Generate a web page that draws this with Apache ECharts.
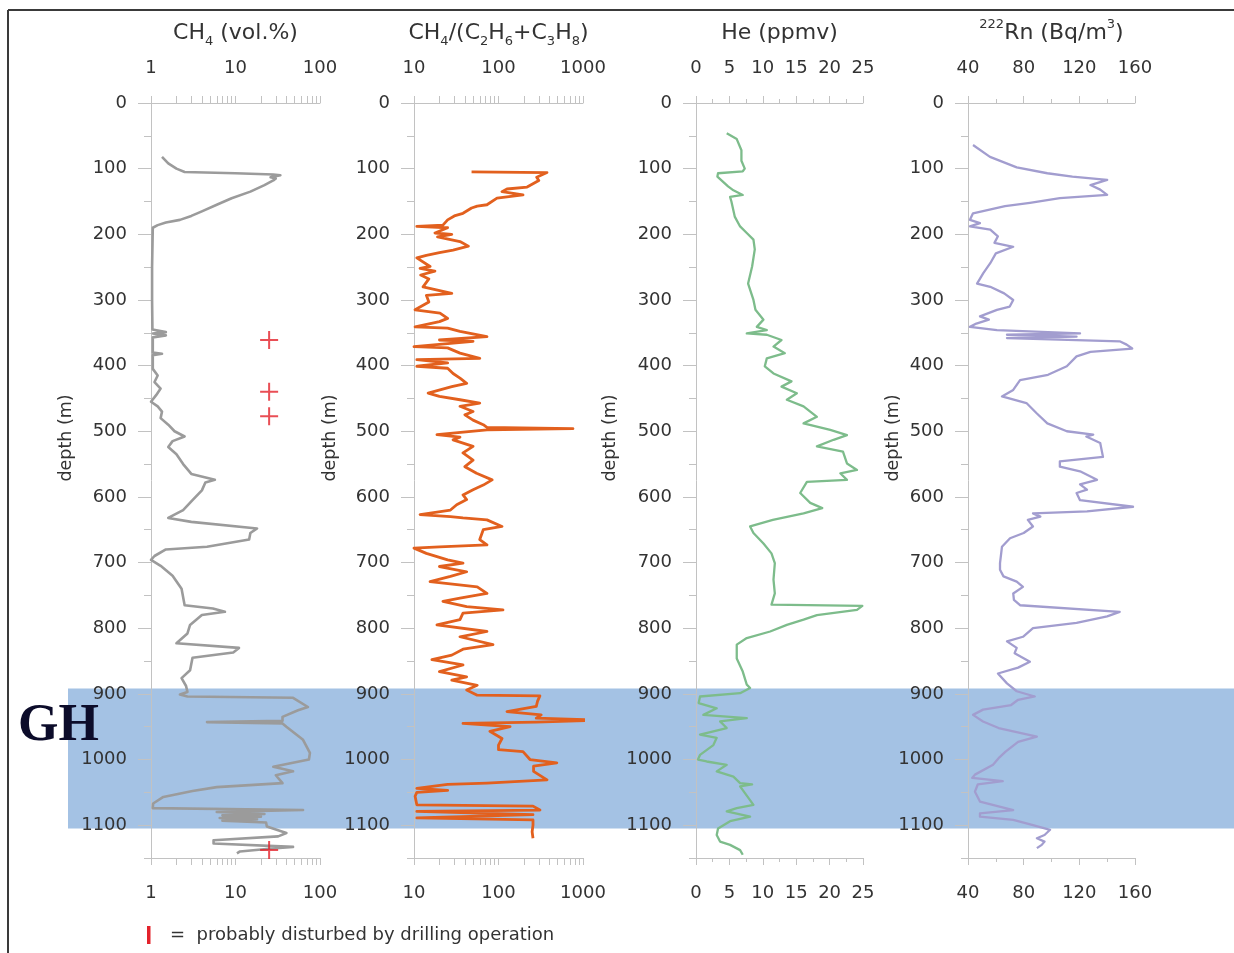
<!DOCTYPE html>
<html>
<head>
<meta charset="utf-8">
<title>Gas profiles vs depth</title>
<script src="https://cdn.jsdelivr.net/npm/echarts@6/dist/echarts.min.js"></script>
<style>
  html, body { margin: 0; padding: 0; background: #fff; }
  #chart { width: 1234px; height: 953px; }
</style>
</head>
<body>
<div id="chart"></div>
<script>
// depth axis
const depthMax = 1150;
const depthLabels = [0, 100, 200, 300, 400, 500, 600, 700, 800, 900, 1000, 1100];
const bandDepth = [892, 1105]; // gas hydrate zone (GH)

// x tick marks
const ch4TickMarks = [1, 2, 3, 4, 5, 6, 7, 8, 9, 10, 20, 30, 40, 50, 60, 70, 80, 90, 100];
const ratioTickMarks = [10, 20, 30, 40, 50, 60, 70, 80, 90, 100, 200, 300, 400, 500, 600, 700, 800, 900, 1000];

// CH4 (vol.%)
const ch4Depth = [82, 92, 100, 105, 107, 109, 110, 113, 115, 118, 125, 135, 145, 155, 165, 172, 178, 182, 186, 190, 250, 300, 345, 349, 351, 354, 357, 380, 382, 384, 405, 415, 425, 435, 445, 455, 462, 470, 480, 490, 500, 508, 515, 524, 535, 550, 565, 574, 578, 590, 605, 620, 632, 638, 648, 655, 665, 676, 680, 690, 696, 705, 720, 740, 765, 770, 775, 780, 795, 808, 823, 830, 837, 845, 864, 876, 888, 897, 901, 904, 906, 920, 925, 935, 941, 943, 945, 950, 970, 990, 1000, 1011, 1018, 1024, 1036, 1042, 1048, 1057, 1067, 1074, 1077, 1080, 1083, 1085, 1087, 1089, 1091, 1093, 1096, 1102, 1112, 1117, 1123, 1128, 1133, 1136, 1140, 1143];
const ch4Value = [1.35, 1.6, 2.0, 2.5, 10, 28, 34, 26, 30, 28, 22, 15, 9, 6, 4, 3, 2.2, 1.5, 1.2, 1.05, 1.03, 1.03, 1.04, 1.5, 1.05, 1.5, 1.05, 1.05, 1.35, 1.05, 1.05, 1.2, 1.1, 1.3, 1.15, 1.0, 1.2, 1.35, 1.3, 1.6, 1.9, 2.5, 1.8, 1.6, 2.0, 2.4, 3.0, 5.7, 4.4, 4.0, 3.1, 2.4, 1.6, 3, 18, 15, 14.5, 4.6, 1.5, 1.1, 1.0, 1.3, 1.8, 2.3, 2.5, 5.4, 7.5, 4.0, 2.9, 2.7, 2.0, 11, 9.4, 3.1, 2.9, 2.3, 2.6, 2.7, 2.2, 2.7, 48, 72, 55, 36, 36, 4.6, 36, 40, 63, 76, 74, 28, 48, 30, 36, 6, 3.1, 1.4, 1.06, 1.05, 63, 6.0, 22, 7, 20, 6.5, 18, 7, 23, 23.5, 40, 32, 5.5, 5.5, 48, 25, 11.3, 10.4];

// probably disturbed by drilling operation
const disturbedDepth = [361, 440, 477, 1138];
const disturbedValue = [25, 25, 25, 25];

// CH4/(C2H6+C3H8)
const ratioDepth = [105, 106, 108, 113, 118, 128, 131, 135, 140, 145, 155, 157, 160, 168, 172, 178, 186, 188, 190, 198, 200, 204, 211, 218, 224, 228, 232, 236, 249, 252, 256, 262, 268, 280, 290, 293, 303, 315, 320, 328, 333, 341, 343, 348, 356, 361, 363, 371, 373, 381, 389, 391, 396, 401, 404, 412, 419, 427, 432, 442, 447, 452, 457, 462, 470, 475, 483, 490, 494, 496, 498, 505, 509, 513, 523, 533, 544, 554, 564, 574, 582, 589, 597, 604, 612, 620, 627, 630, 632, 635, 645, 650, 665, 673, 676, 678, 686, 696, 701, 706, 714, 721, 729, 737, 747, 754, 759, 767, 772, 777, 787, 795, 805, 813, 825, 832, 841, 848, 856, 866, 874, 879, 887, 894, 902, 903, 911, 919, 927, 932, 937, 940, 943, 945, 950, 957, 968, 978, 985, 988, 1000, 1005, 1010, 1018, 1031, 1036, 1038, 1044, 1047, 1050, 1056, 1069, 1071, 1077, 1079, 1084, 1089, 1092, 1100, 1110, 1120];
const ratioValue = [48, 375, 385, 283, 300, 218, 126, 110, 195, 96, 73, 56, 48, 38, 30, 25, 22, 10.8, 25, 17.7, 28, 19, 35, 44, 29, 20, 14, 10.8, 15.5, 11.8, 17.7, 12, 15, 12.8, 28, 14, 15, 10.3, 20.3, 25, 20, 10.3, 25, 35, 73, 20, 50, 10, 25, 35, 60, 10.8, 25, 10.8, 25, 29, 35, 42, 28, 14.7, 20, 35, 60, 35, 50, 40, 50, 66, 73, 760, 73, 18.7, 35, 29, 50, 38, 50, 40, 55, 84, 66, 50, 38, 42, 32, 27, 11.8, 27, 38, 73, 110, 66, 60, 73, 20, 10, 14, 25, 38, 20, 42, 27, 15.5, 56, 73, 35, 22, 42, 113, 38, 35, 18.7, 73, 35, 86, 38, 28, 16.3, 38, 20, 42, 28, 56, 42, 56, 309, 290, 280, 126, 320, 280, 1600, 280, 38, 137, 79, 110, 100, 100, 195, 236, 490, 260, 260, 375, 73, 25, 10.8, 25, 10.8, 10.3, 10.8, 256, 309, 10.8, 256, 10.8, 256, 256, 250, 256];

// He (ppmv)
const heDepth = [46, 55, 72, 88, 100, 104, 107, 112, 127, 133, 140, 143, 150, 173, 188, 198, 208, 223, 249, 275, 300, 315, 330, 341, 346, 351, 353, 361, 371, 381, 389, 401, 412, 424, 432, 442, 452, 462, 478, 488, 498, 506, 513, 523, 531, 549, 559, 564, 574, 577, 594, 609, 617, 625, 635, 645, 655, 671, 686, 701, 726, 747, 764, 766, 772, 780, 787, 795, 805, 815, 825, 846, 866, 886, 891, 899, 904, 914, 922, 932, 937, 942, 952, 962, 967, 978, 993, 1000, 1003, 1008, 1018, 1026, 1036, 1038, 1041, 1069, 1074, 1079, 1087, 1094, 1105, 1115, 1125, 1130, 1138, 1145];
const heValue = [4.6, 6.1, 6.8, 6.8, 7.3, 7.0, 3.3, 3.2, 4.8, 5.6, 7.0, 5.1, 5.3, 5.8, 6.6, 7.6, 8.6, 8.8, 8.4, 7.8, 8.6, 8.9, 10.1, 9.1, 10.6, 7.6, 10.6, 12.8, 11.6, 13.3, 10.6, 10.3, 11.6, 14.3, 12.8, 15.1, 13.6, 16.1, 18.1, 16.1, 20.1, 22.6, 20.6, 18.1, 22.0, 22.6, 24.1, 21.6, 22.6, 16.6, 15.6, 17.1, 18.9, 16.1, 11.5, 8.1, 8.6, 10.1, 11.3, 11.8, 11.6, 11.8, 11.3, 24.9, 24.1, 18.1, 16.1, 13.6, 11.1, 7.6, 6.1, 6.1, 7.0, 7.6, 8.1, 6.6, 0.6, 0.4, 3.1, 1.1, 7.6, 3.6, 4.6, 0.6, 3.1, 2.6, 0.6, 0.3, 1.6, 4.6, 3.1, 5.6, 6.6, 8.4, 6.6, 8.6, 6.1, 4.6, 8.1, 5.1, 3.3, 3.1, 3.6, 5.1, 6.6, 7.0];

// 222Rn (Bq/m3)
const rnDepth = [64, 82, 98, 107, 112, 117, 125, 132, 140, 145, 152, 157, 168, 178, 183, 188, 193, 203, 213, 219, 229, 244, 259, 275, 280, 290, 300, 310, 315, 325, 330, 336, 341, 346, 351, 353, 356, 358, 363, 368, 374, 379, 386, 401, 414, 422, 437, 447, 457, 473, 488, 500, 505, 508, 518, 539, 546, 554, 561, 574, 581, 589, 594, 605, 615, 622, 625, 630, 635, 645, 655, 663, 676, 701, 711, 721, 729, 737, 747, 757, 765, 775, 782, 792, 800, 813, 820, 830, 838, 851, 860, 869, 884, 896, 904, 909, 917, 924, 932, 942, 952, 965, 973, 988, 998, 1008, 1023, 1028, 1033, 1038, 1049, 1064, 1077, 1082, 1087, 1092, 1100, 1107, 1115, 1120, 1125, 1130, 1135];
const rnValue = [43.6, 55.8, 75, 97, 115, 140, 128, 135, 140, 106, 84.5, 66.6, 43.6, 41.4, 48.6, 41.4, 56, 61.5, 59, 72.5, 60, 56, 51, 46.5, 56, 66, 72.5, 70, 60.8, 48.6, 55, 46, 41.4, 60.8, 120.5, 68, 118, 68, 149, 154, 158, 128, 118, 111, 97.5, 77.4, 72.5, 64.4, 82, 89.5, 97, 111, 130, 125, 135, 137, 106, 106, 120.5, 132.7, 120.5, 125.5, 118, 120.5, 158.6, 125.5, 86.7, 92, 83, 86.7, 80, 70.2, 64.4, 63, 63, 65.5, 75, 79.5, 72.5, 73, 77.4, 149, 140, 118, 86.7, 79.5, 68, 75, 73.5, 84.5, 76, 61.5, 68, 75, 88, 76, 71, 50.8, 43.6, 50.8, 62, 89.5, 76, 67, 62, 58, 45, 43, 65, 47, 45, 48.6, 72.5, 48.6, 48.6, 72.5, 86.7, 99, 95, 89.5, 95, 93, 89.5];

const FONT = 'DejaVu Sans';
const TEXT = '#333333';
const AXIS = '#c2c2c2';

// pair depth with value -> [x, y] points
function zip(depths, values) {
    return depths.map((d, i) => [values[i], d]);
}

const titleRich = {
    sub: { fontFamily: FONT, fontSize: 13, lineHeight: 14, verticalAlign: 'bottom', color: TEXT },
    sup: { fontFamily: FONT, fontSize: 13, lineHeight: 14, verticalAlign: 'top', color: TEXT }
};

function xAxisDef(grid, position, scale, title) {
    const axis = {
        gridIndex: grid,
        position: position,
        z: 1,
        axisLine: { show: true, onZero: false, lineStyle: { color: AXIS, width: 1 } },
        axisTick: { show: true, length: 7, lineStyle: { color: AXIS } },
        axisLabel: { color: TEXT, fontFamily: FONT, fontSize: 18, margin: 26, formatter: v => String(Math.round(v)) },
        splitLine: { show: false }
    };
    if (title) {
        axis.name = title;
        axis.nameLocation = 'middle';
        axis.nameGap = 55;
        axis.nameTextStyle = { color: TEXT, fontFamily: FONT, fontSize: 22, lineHeight: 30, rich: titleRich };
    }
    if (scale.type === 'log') {
        axis.type = 'log';
        axis.logBase = 10;
        axis.axisTick.customValues = scale.marks;
    } else {
        axis.type = 'value';
        axis.interval = scale.interval;
        axis.minorTick = { show: true, splitNumber: 2, length: 4, lineStyle: { color: AXIS } };
    }
    axis.min = scale.min;
    axis.max = scale.max;
    return axis;
}

const scales = [
    { type: 'log', min: 1, max: 100, marks: ch4TickMarks },
    { type: 'log', min: 10, max: 1000, marks: ratioTickMarks },
    { type: 'value', min: 0, max: 25, interval: 5 },
    { type: 'value', min: 40, max: 160, interval: 40 }
];
const titles = [
    'CH{sub|4} (vol.%)',
    'CH{sub|4}/(C{sub|2}H{sub|6}+C{sub|3}H{sub|8})',
    'He (ppmv)',
    '{sup|222}Rn (Bq/m{sup|3})'
];
const panelLeft = [151, 414, 696, 968];
const panelWidth = [169, 169, 167, 167];
const plotTop = 103;
const plotHeight = 755;

const grids = panelLeft.map((l, i) => ({ left: l, top: plotTop, width: panelWidth[i], height: plotHeight }));
grids.push({ left: 68, right: 0, top: plotTop, height: plotHeight });

const xAxes = [];
scales.forEach((s, i) => {
    xAxes.push(xAxisDef(i, 'top', s, titles[i]));
    xAxes.push(xAxisDef(i, 'bottom', s, null));
});
xAxes.push({ gridIndex: 4, type: 'value', min: 0, max: 1, show: false });

const yAxes = [];
for (let i = 0; i < 4; i++) {
    yAxes.push({
        gridIndex: i, type: 'value', position: 'left', inverse: true, min: 0, max: depthMax, interval: 50, z: 1,
        axisLine: { show: true, lineStyle: { color: AXIS, width: 1 } },
        axisTick: { show: true, length: 7, lineStyle: { color: AXIS } },
        axisLabel: {
            color: TEXT, fontFamily: FONT, fontSize: 18, margin: 24,
            formatter: v => depthLabels.indexOf(v) >= 0 ? String(v) : ''
        },
        splitLine: { show: false }
    });
}
for (let i = 0; i < 4; i++) {
    // longer ticks at labelled depths
    yAxes.push({
        gridIndex: i, type: 'value', position: 'left', offset: 0, inverse: true, min: 0, max: depthMax, interval: 50, z: 1,
        axisLine: { show: false },
        axisTick: { show: true, length: 13, customValues: depthLabels, lineStyle: { color: AXIS } },
        axisLabel: { show: false },
        splitLine: { show: false }
    });
}
yAxes.push({ gridIndex: 4, type: 'value', inverse: true, min: 0, max: depthMax, show: false });

function lineSeries(panel, data, color, width) {
    return {
        type: 'line', xAxisIndex: panel * 2, yAxisIndex: panel, data: data,
        symbol: 'none', showSymbol: false, silent: true, z: 2,
        lineStyle: { color: color, width: width, join: 'round' }
    };
}

const series = [
    {
        type: 'custom', xAxisIndex: 8, yAxisIndex: 8, z: 0, silent: true,
        data: [bandDepth],
        renderItem: (params, api) => {
            const a = api.coord([0, api.value(0)]);
            const b = api.coord([0, api.value(1)]);
            return {
                type: 'rect',
                shape: { x: params.coordSys.x, y: a[1], width: params.coordSys.width, height: b[1] - a[1] },
                style: { fill: '#a4c2e4' }
            };
        }
    },
    lineSeries(0, zip(ch4Depth, ch4Value), '#9b9b9b', 2.6),
    lineSeries(1, zip(ratioDepth, ratioValue), '#e2601e', 2.8),
    lineSeries(2, zip(heDepth, heValue), '#7dbc8b', 2.3),
    lineSeries(3, zip(rnDepth, rnValue), '#a29dcf', 2.3),
    {
        type: 'scatter', xAxisIndex: 0, yAxisIndex: 0, z: 3, silent: true,
        data: zip(disturbedDepth, disturbedValue),
        symbol: 'path://M8,0H10V8H18V10H10V18H8V10H0V8H8Z',
        symbolSize: 18,
        itemStyle: { color: '#e3222b' }
    }
];

const depthNameX = [66, 330, 610, 893];
const graphics = depthNameX.map(x => ({
    type: 'text', x: x, y: 438, rotation: Math.PI / 2, z: 10,
    style: { text: 'depth (m)', fill: TEXT, fontFamily: FONT, fontSize: 17.5, align: 'center', verticalAlign: 'middle' }
}));
graphics.push(
    { type: 'line', z: 10, shape: { x1: 8, y1: 10, x2: 1234, y2: 10 }, style: { stroke: '#3a3a3a', lineWidth: 2 } },
    { type: 'line', z: 10, shape: { x1: 8, y1: 10, x2: 8, y2: 953 }, style: { stroke: '#3a3a3a', lineWidth: 2 } },
    {
        type: 'text', x: 18, y: 727, z: 10,
        style: { text: 'GH', fill: '#0c0c2a', fontFamily: 'Liberation Serif', fontWeight: 'bold', fontSize: 52, align: 'left', verticalAlign: 'middle' }
    },
    { type: 'rect', z: 10, shape: { x: 147, y: 926, width: 3.5, height: 18 }, style: { fill: '#e3222b' } },
    {
        type: 'text', x: 170, y: 935, z: 10,
        style: { text: '=  probably disturbed by drilling operation', fill: TEXT, fontFamily: FONT, fontSize: 18, align: 'left', verticalAlign: 'middle' }
    }
);

const chart = echarts.init(document.getElementById('chart'));
chart.setOption({
    animation: false,
    backgroundColor: '#ffffff',
    grid: grids,
    xAxis: xAxes,
    yAxis: yAxes,
    series: series,
    graphic: graphics
});
</script>
</body>
</html>
